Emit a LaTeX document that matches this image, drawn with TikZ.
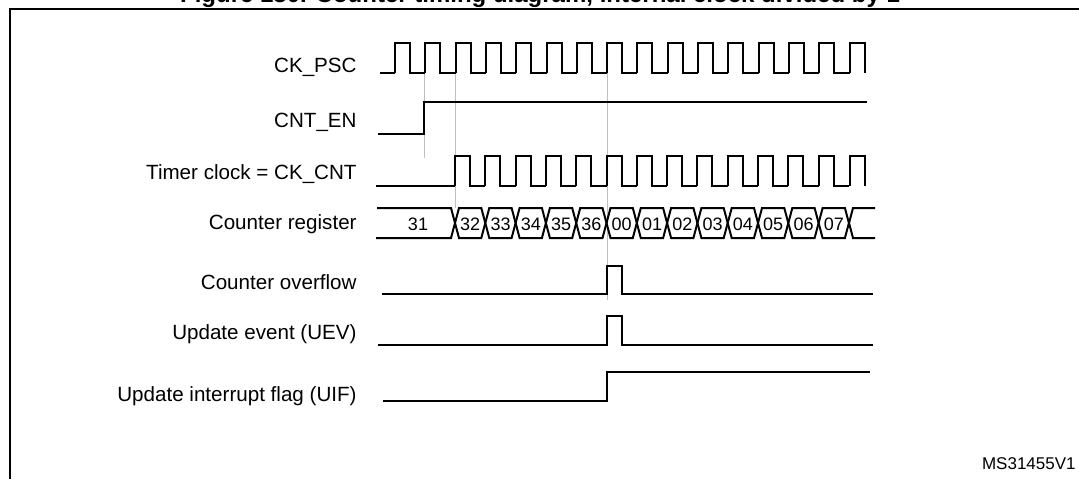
\documentclass[tikz,border=0pt]{standalone}
\usepackage{fontspec}
\setmainfont{Liberation Sans}
\tikzset{
  sig/.style={line width=1pt},
  guide/.style={draw=black!25,line width=0.5pt},
  lbl/.style={anchor=east,font=\fontsize{10.3}{12}\selectfont,inner sep=0pt},
  val/.style={font=\fontsize{9}{10}\selectfont,inner sep=0pt}
}
\begin{document}
\begin{tikzpicture}[x=0.5pt,y=-0.5pt]
\useasboundingbox (0,0) rectangle (1079,479);
\begin{scope}
\clip (0,0) rectangle (1079,479);
\node [font=\bfseries\fontsize{12}{14}\selectfont,anchor=base] (title) at (540,2) {Figure 130. Counter timing diagram, internal clock divided by 1};
\end{scope}
\draw [line width=1pt] (10,479) -- (10,9) -- (1085,9);

% signal names
\node [lbl] (ckpsc) at (357,67) {CK\_PSC};
\node [lbl] (cnten) at (357,122) {CNT\_EN};
\node [lbl] (ckcnt) at (357,174) {Timer clock = CK\_CNT};
\node [lbl] (cntreg) at (357,224) {Counter register};
\node [lbl] (ovf) at (357,282) {Counter overflow};
\node [lbl] (uev) at (357,334) {Update event (UEV)};
\node [lbl] (uif) at (357,396) {Update interrupt flag (UIF)};

% guide lines
\draw [guide] (424,73) -- (424,158);
\draw [guide] (455,73) -- (455,208);
\draw [guide] (607,73) -- (607,300);

% CK_PSC
\draw [sig] (380,73) -- (395,73);
\foreach \k in {0,...,14}
  \draw [sig] ({395+30.3*\k},73) -- ({395+30.3*\k},43) -- ({410+30.3*\k},43)
    -- ({410+30.3*\k},73) -- ({425.3+30.3*\k},73);
\draw [sig] (849.5,73) -- (849.5,43) -- (865,43) -- (865,73);

% CNT_EN
\draw [sig] (378,134) -- (424,134) -- (424,102) -- (867,102);

% timer clock
\draw [sig] (376,186) -- (455,186);
\foreach \k in {0,...,12}
  \draw [sig] ({455+30.3*\k},186) -- ({455+30.3*\k},156) -- ({470+30.3*\k},156)
    -- ({470+30.3*\k},186) -- ({485.3+30.3*\k},186);
\draw [sig] (849.5,186) -- (849.5,156) -- (865,156) -- (865,186);

% counter register
\draw [sig] (377,208) -- (451,208) -- (455,223) -- (451,238) -- (376,238);
\node [val] (v31) at (418,224) {31};
\foreach \v [count=\k from 0] in {32,33,34,35,36,00,01,02,03,04,05,06,07} {
  \draw [sig] ({455+30.3*\k},223) -- ({459+30.3*\k},208) -- ({481.3+30.3*\k},208)
    -- ({485.3+30.3*\k},223) -- ({481.3+30.3*\k},238) -- ({459+30.3*\k},238) -- cycle;
  \node [val] at ({470.2+30.3*\k},224) {\v};
}
\draw [sig] (875,208) -- (853,208) -- (849,223) -- (853,238) -- (875,238);

% overflow, UEV, UIF
\draw [sig] (382,294) -- (607,294) -- (607,266) -- (622,266) -- (622,294) -- (873,294);
\draw [sig] (378,345) -- (607,345) -- (607,316) -- (622,316) -- (622,345) -- (873,345);
\draw [sig] (383,401) -- (607,401) -- (607,372) -- (870,372);

\node [anchor=east,font=\fontsize{8.5}{10}\selectfont,inner sep=0pt] (ref) at (1076,464) {MS31455V1};
\end{tikzpicture}
\end{document}
